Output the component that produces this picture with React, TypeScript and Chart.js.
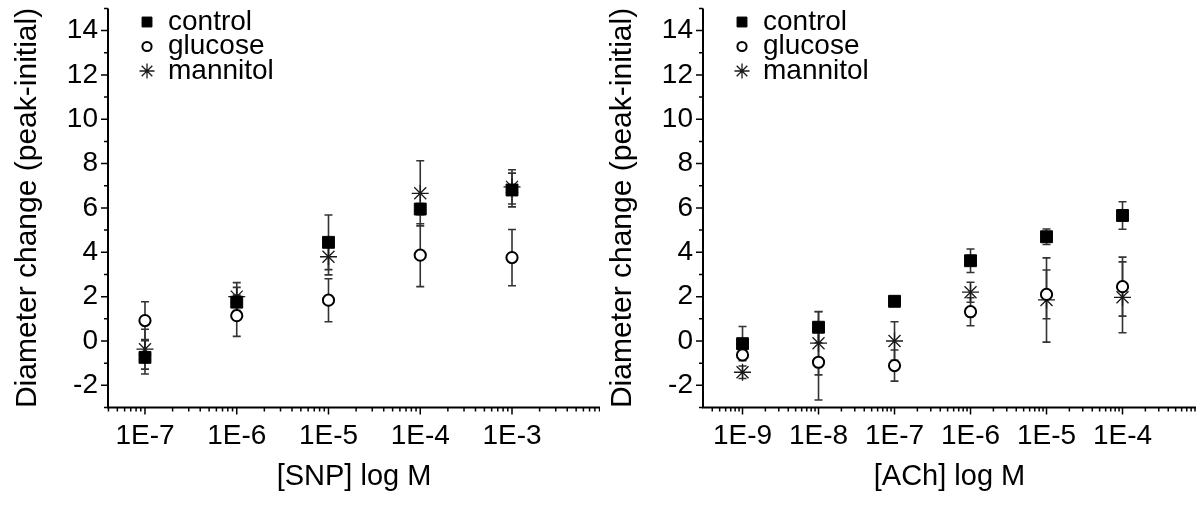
import React, { useEffect, useRef } from "react";
import { Chart, registerables } from "chart.js";
import { drawPoint } from "chart.js/helpers";

Chart.register(...registerables);

const FONT_FAMILY = '"Liberation Sans", Arial, sans-serif';

// Series names and y-axis ticks shared by both panels
const seriesNames = ["control", "glucose", "mannitol"];
const yTickValues = [-2, 0, 2, 4, 6, 8, 10, 12, 14];

// SNP dose-response (mean and SEM)
const snpDoses = [1e-7, 1e-6, 1e-5, 1e-4, 1e-3];
const snpControl = [-0.74, 1.75, 4.45, 5.95, 6.81];
const snpControlErr = [0.75, 0.67, 1.23, 0.25, 0.76];
const snpGlucose = [0.92, 1.14, 1.84, 3.87, 3.76];
const snpGlucoseErr = [0.85, 0.93, 0.97, 1.42, 1.27];
const snpMannitol = [-0.37, 2.0, 3.8, 6.66, 6.95];
const snpMannitolErr = [0.9, 0.63, 0.82, 1.47, 0.77];

// ACh dose-response (mean and SEM)
const achDoses = [1e-9, 1e-8, 1e-7, 1e-6, 1e-5, 1e-4];
const achControl = [-0.12, 0.62, 1.79, 3.62, 4.7, 5.66];
const achControlErr = [0.77, 0.7, 0.15, 0.53, 0.35, 0.62];
const achGlucose = [-0.63, -0.96, -1.11, 1.32, 2.1, 2.45];
const achGlucoseErr = [0.2, 1.7, 0.7, 0.63, 1.1, 1.33];
const achMannitol = [-1.41, -0.1, 0.0, 2.2, 1.85, 1.97];
const achMannitolErr = [0.28, 1.43, 0.87, 0.45, 1.9, 1.6];

const markerStyles = [
  { pointStyle: "rect", radius: 8.4, legendRadius: 7, fill: "#000", stroke: "#000", borderWidth: 1 },
  { pointStyle: "circle", radius: 5.6, legendRadius: 4.6, fill: "#fff", stroke: "#000", borderWidth: 2 },
  { pointStyle: "star", radius: 8.5, legendRadius: 7.5, fill: "rgba(0,0,0,0)", stroke: "#1a1a1a", borderWidth: 1.3 },
];

const originPlugin = {
  id: "originStyle",
  beforeDatasetsDraw(chart: any) {
    const { ctx, chartArea: a, scales } = chart;
    const x = scales.x;
    const y = scales.y;
    ctx.save();
    // error bars
    ctx.strokeStyle = "#333";
    ctx.lineWidth = 1.6;
    chart.data.datasets.forEach((ds: any) => {
      ds.data.forEach((p: any, j: number) => {
        const e = ds.errors[j];
        const px = x.getPixelForValue(p.x);
        const t = y.getPixelForValue(p.y + e);
        const b = y.getPixelForValue(p.y - e);
        ctx.beginPath();
        ctx.moveTo(px, t);
        ctx.lineTo(px, b);
        ctx.moveTo(px - 4, t);
        ctx.lineTo(px + 4, t);
        ctx.moveTo(px - 4, b);
        ctx.lineTo(px + 4, b);
        ctx.stroke();
      });
    });
    // axis lines
    ctx.strokeStyle = "#000";
    ctx.lineWidth = 2;
    ctx.beginPath();
    ctx.moveTo(a.left, a.top);
    ctx.lineTo(a.left, a.bottom);
    ctx.lineTo(a.right, a.bottom);
    ctx.stroke();
    // y ticks: major at even values, minor at odd values
    ctx.lineWidth = 1.5;
    ctx.beginPath();
    for (let v = Math.ceil(y.min); v <= y.max; v++) {
      const py = y.getPixelForValue(v);
      const len = v % 2 === 0 ? 7 : 4;
      ctx.moveTo(a.left, py);
      ctx.lineTo(a.left - len, py);
    }
    // x ticks: major at decades, minor at 2..9
    const dStart = Math.floor(Math.log10(x.min));
    const dEnd = Math.ceil(Math.log10(x.max));
    for (let d = dStart; d <= dEnd; d++) {
      for (let m = 1; m <= 9; m++) {
        const v = m * Math.pow(10, d);
        if (v < x.min || v > x.max) continue;
        const px = x.getPixelForValue(v);
        const len = m === 1 ? 7 : 4;
        ctx.moveTo(px, a.bottom);
        ctx.lineTo(px, a.bottom + len);
      }
    }
    ctx.stroke();
    ctx.restore();
  },
  afterDraw(chart: any) {
    const { ctx } = chart;
    const opts = chart.options.plugins.originStyle;
    ctx.save();
    chart.data.datasets.forEach((ds: any, i: number) => {
      const st = markerStyles[i];
      const yy = opts.legendTop + i * opts.legendGap;
      ctx.fillStyle = st.fill;
      ctx.strokeStyle = st.stroke;
      ctx.lineWidth = st.borderWidth;
      drawPoint(
        ctx,
        { pointStyle: st.pointStyle, radius: st.legendRadius, borderWidth: st.borderWidth, rotation: 0 } as any,
        opts.legendX,
        yy
      );
      ctx.fillStyle = "#000";
      ctx.font = `28px ${FONT_FAMILY}`;
      ctx.textBaseline = "middle";
      ctx.textAlign = "left";
      ctx.fillText(ds.label, opts.legendTextX, yy);
    });
    ctx.restore();
  },
};

function makeConfig(
  doses: number[],
  means: number[][],
  errs: number[][],
  xMin: number,
  xMax: number,
  xTitle: string
): any {
  const decades = doses.slice();
  return {
    type: "scatter",
    data: {
      datasets: seriesNames.map((name, i) => ({
        label: name,
        data: doses.map((d, j) => ({ x: d, y: means[i][j] })),
        errors: errs[i],
        pointStyle: markerStyles[i].pointStyle,
        pointRadius: markerStyles[i].radius,
        pointHoverRadius: markerStyles[i].radius,
        backgroundColor: markerStyles[i].fill,
        borderColor: markerStyles[i].stroke,
        borderWidth: markerStyles[i].borderWidth,
        showLine: false,
      })),
    },
    options: {
      animation: false,
      responsive: false,
      maintainAspectRatio: false,
      layout: { autoPadding: false, padding: { top: 8.4, right: 0, left: 0, bottom: 0 } },
      events: [],
      plugins: {
        legend: { display: false },
        tooltip: { enabled: false },
        originStyle: { legendX: 147, legendTextX: 168, legendTop: 22, legendGap: 24.5 },
      },
      scales: {
        x: {
          type: "logarithmic",
          min: Math.pow(10, xMin),
          max: Math.pow(10, xMax),
          afterFit: (s: any) => {
            s.height = 98.5;
            s.paddingLeft = 0;
            s.paddingRight = 0;
          },
          afterBuildTicks: (s: any) => {
            s.ticks = decades.map((v) => ({ value: v }));
          },
          ticks: {
            autoSkip: false,
            maxRotation: 0,
            padding: 12,
            color: "#000",
            font: { family: FONT_FAMILY, size: 28 },
            callback: (v: any) => `1E${Math.round(Math.log10(Number(v)))}`,
          },
          grid: { display: false, drawTicks: false },
          border: { display: false },
          title: {
            display: true,
            text: xTitle,
            color: "#000",
            font: { family: FONT_FAMILY, size: 29 },
            padding: { top: 0, bottom: 11.6 },
          },
        },
        y: {
          type: "linear",
          min: -3,
          max: 15,
          afterFit: (s: any) => {
            s.width = 108;
            s.paddingTop = 0;
            s.paddingBottom = 0;
          },
          afterBuildTicks: (s: any) => {
            s.ticks = yTickValues.map((v) => ({ value: v }));
          },
          ticks: {
            padding: 10,
            color: "#000",
            font: { family: FONT_FAMILY, size: 28 },
          },
          grid: { display: false, drawTicks: false },
          border: { display: false },
          title: {
            display: true,
            text: "Diameter change (peak-initial)",
            color: "#000",
            font: { family: FONT_FAMILY, size: 30 },
            padding: { top: 10, bottom: 0 },
          },
        },
      },
    },
    plugins: [originPlugin],
  };
}

function Panel(props: { left: number; width: number; config: any }) {
  const ref = useRef<HTMLCanvasElement | null>(null);
  useEffect(() => {
    if (!ref.current) return;
    const chart = new Chart(ref.current, props.config);
    return () => chart.destroy();
  }, []);
  return (
    <canvas
      ref={ref}
      width={props.width}
      height={506}
      style={{ position: "absolute", left: props.left, top: 0, width: props.width, height: 506 }}
    />
  );
}

export default function App() {
  const snpConfig = makeConfig(
    snpDoses,
    [snpControl, snpGlucose, snpMannitol],
    [snpControlErr, snpGlucoseErr, snpMannitolErr],
    -7.403,
    -2.041,
    "[SNP] log M"
  );
  const achConfig = makeConfig(
    achDoses,
    [achControl, achGlucose, achMannitol],
    [achControlErr, achGlucoseErr, achMannitolErr],
    -9.52,
    -3.033,
    "[ACh] log M"
  );
  return (
    <div
      style={{
        position: "absolute",
        left: 0,
        top: 0,
        width: 1196,
        height: 506,
        overflow: "hidden",
        background: "#fff",
      }}
    >
      <Panel left={0} width={600} config={snpConfig} />
      <Panel left={595} width={601} config={achConfig} />
    </div>
  );
}
